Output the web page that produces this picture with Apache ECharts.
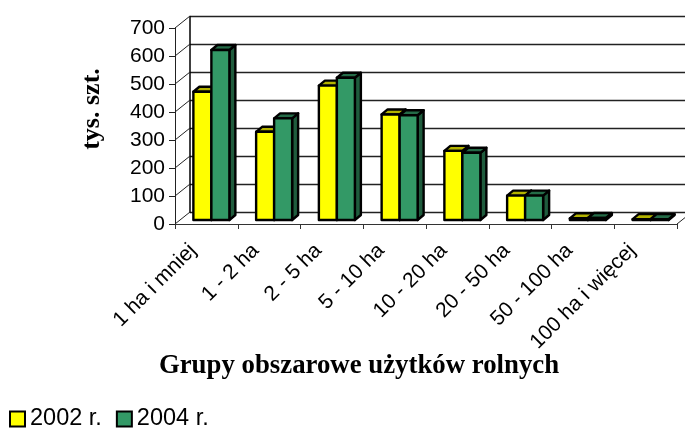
<!DOCTYPE html>
<html><head><meta charset="utf-8">
<style>html,body{margin:0;padding:0;background:#fff}#c{width:685px;height:428px}</style>
<script src="https://cdn.jsdelivr.net/npm/echarts@6/dist/echarts.min.js"></script></head>
<body><div id="c"></div>
<script>
const categories = ['1 ha i mniej','1 - 2 ha','2 - 5 ha','5 - 10 ha','10 - 20 ha','20 - 50 ha','50 - 100 ha','100 ha i więcej'];
const values2002 = [458,315,480,377,247,87,6,3];
const values2004 = [607,363,508,374,240,87,7,3];
const yTicks = [0,100,200,300,400,500,600,700];
const chart = echarts.init(document.getElementById('c'));
const WALL = [15,-12], OFF = [5,-4], D = [6,-5], BW = 18;
const poly = (pts, fill) => ({type:'polygon', shape:{points:pts},
  style:{fill, stroke:'#000', lineWidth:2.4, lineJoin:'round'}});
const bar3d = (shift, front, top, side) => (params, api) => {
  const i = api.value(0), p = api.coord([i, api.value(1)]), b = api.coord([i, 0]);
  const x0 = p[0] + OFF[0] + shift, x1 = x0 + BW, yt = p[1] + OFF[1], yb = b[1] + OFF[1];
  return {type:'group', children:[
    poly([[x1,yt],[x1+D[0],yt+D[1]],[x1+D[0],yb+D[1]],[x1,yb]], side),
    poly([[x0,yt],[x0+D[0],yt+D[1]],[x1+D[0],yt+D[1]],[x1,yt]], top),
    poly([[x0,yt],[x1,yt],[x1,yb],[x0,yb]], front)
  ]};
};
const diag = (a) => ({type:'line', shape:{x1:a[0],y1:a[1],x2:a[0]+WALL[0],y2:a[1]+WALL[1]},
  style:{stroke:'#222', lineWidth:1}});
chart.setOption({
  animation:false,
  textStyle:{fontFamily:'"Liberation Sans",Arial,sans-serif', color:'#000'},
  title:[{text:'Grupy obszarowe użytków rolnych', left:354, top:346, textAlign:'center',
    textStyle:{fontFamily:'"Liberation Serif",serif', fontWeight:'bold', fontSize:26.8, color:'#000', lineHeight:30}}],
  legend:{left:9, top:407, padding:[0,0,0,0], itemWidth:15, itemHeight:15, itemGap:14, icon:'rect',
    data:['2002 r.','2004 r.'],
    textStyle:{fontSize:23.5, color:'#000'}},
  grid:[
    {left:175, right:8, top:28, bottom:204},
    {left:190, right:0, top:16.5, bottom:215.5}
  ],
  xAxis:[
    {type:'category', data:categories, gridIndex:0, boundaryGap:true,
     axisLine:{lineStyle:{color:'#333', width:1}},
     axisTick:{show:true, alignWithLabel:false, length:5, lineStyle:{color:'#333'}},
     axisLabel:{rotate:45, interval:0, fontSize:21, color:'#000', margin:10, padding:[0,19,0,0]}},
    {type:'category', data:categories, gridIndex:1, show:false}
  ],
  yAxis:[
    {type:'value', min:0, max:700, interval:100, gridIndex:0,
     name:'tys. szt.', nameLocation:'middle', nameGap:70,
     nameTextStyle:{fontFamily:'"Liberation Serif",serif', fontWeight:'bold', fontSize:26, color:'#000', padding:[0,0,0,34]},
     axisLine:{show:true, lineStyle:{color:'#222'}},
     axisTick:{show:true, length:6, lineStyle:{color:'#222'}},
     splitLine:{show:false},
     axisLabel:{fontSize:21, color:'#000', margin:10}},
    {type:'value', min:0, max:700, interval:100, gridIndex:1,
     axisLine:{show:true, lineStyle:{color:'#000', width:1.5}},
     axisTick:{show:false}, axisLabel:{show:false},
     splitLine:{show:true, lineStyle:{color:'#222', width:1.3}}}
  ],
  series:[
    {type:'custom', name:'ticks', silent:true, xAxisIndex:0, yAxisIndex:0, clip:false,
     data:yTicks.map(v=>[0,v]), z:1,
     renderItem:(p,api)=>{ const a=api.coord([api.value(0),api.value(1)]); a[0]=p.coordSys.x; return diag(a); }},
    {type:'custom', name:'floor', silent:true, xAxisIndex:0, yAxisIndex:0, clip:false,
     data:[[categories.length-1,0]], z:1,
     renderItem:(p,api)=>{ return diag([p.coordSys.x+p.coordSys.width, p.coordSys.y+p.coordSys.height]); }},
    {type:'custom', name:'2002 r.', xAxisIndex:0, yAxisIndex:0, clip:false, z:3,
     itemStyle:{color:'#ffff00', borderColor:'#000', borderWidth:2},
     data:values2002.map((v,i)=>[i,v]),
     renderItem:bar3d(-BW,'#ffff00','#b3b300','#b3b300')},
    {type:'custom', name:'2004 r.', xAxisIndex:0, yAxisIndex:0, clip:false, z:4,
     itemStyle:{color:'#339966', borderColor:'#000', borderWidth:2},
     data:values2004.map((v,i)=>[i,v]),
     renderItem:bar3d(0,'#339966','#246b47','#1f5c3d')}
  ]
});
</script></body></html>
